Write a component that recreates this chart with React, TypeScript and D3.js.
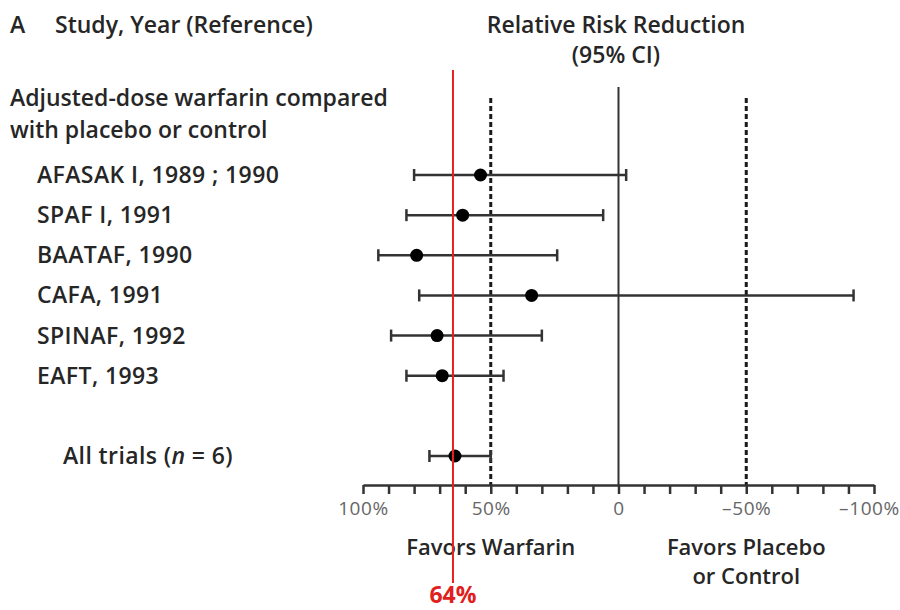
import { useEffect, useRef } from 'react';
import * as d3 from 'd3';

const studies = ['AFASAK I, 1989 ; 1990', 'SPAF I, 1991', 'BAATAF, 1990', 'CAFA, 1991', 'SPINAF, 1992', 'EAFT, 1993'];
const rrr = [54, 61, 79, 34, 71, 69];
const ciUpper = [80, 83, 94, 78, 89, 83];
const ciLower = [-3, 6, 24, -92, 30, 45];

const pooledRrr = 64;
const pooledCi = [74, 50];

const tickValues = d3.range(100, -101, -10);
const labelledTicks = [100, 50, 0, -50, -100];
const refLines = [50, -50];

const font = '"Open Sans", "Noto Sans", sans-serif';
const ink = '#262626';

const App = () => {
  const ref = useRef<SVGSVGElement>(null);

  useEffect(() => {
    const svg = d3.select(ref.current);
    svg.selectAll('*').remove();

    const x = d3.scaleLinear().domain([100, -100]).range([363, 874]);
    const row = d3.scaleLinear().domain([0, 7]).range([175, 456]);
    const axisY = 485;

    // headers
    const head = svg.append('g').attr('font-family', font).attr('font-weight', 600).attr('fill', ink).attr('font-size', 23);
    head.append('text').attr('x', 10).attr('y', 33).text('A');
    head.append('text').attr('x', 55).attr('y', 33).text('Study, Year (Reference)');
    head.append('text').attr('x', 616).attr('y', 33).attr('text-anchor', 'middle').text('Relative Risk Reduction');
    head.append('text').attr('x', 616).attr('y', 63).attr('text-anchor', 'middle').text('(95% CI)');
    head.append('text').attr('x', 10).attr('y', 106).text('Adjusted-dose warfarin compared');
    head.append('text').attr('x', 10).attr('y', 138).text('with placebo or control');

    // study labels
    head
      .selectAll('text.study')
      .data(studies)
      .join('text')
      .attr('class', 'study')
      .attr('x', 37)
      .attr('y', (_, i) => row(i) + 8)
      .attr('letter-spacing', 0.4)
      .text((d) => d);

    const all = head.append('text').attr('x', 63).attr('y', row(7) + 8).attr('letter-spacing', 0.4);
    all.append('tspan').text('All trials (');
    all.append('tspan').attr('font-style', 'italic').text('n');
    all.append('tspan').text(' = 6)');

    // reference lines
    svg
      .append('line')
      .attr('x1', x(0))
      .attr('x2', x(0))
      .attr('y1', 87)
      .attr('y2', axisY)
      .attr('stroke', '#333')
      .attr('stroke-width', 2);
    svg
      .selectAll('line.ref')
      .data(refLines)
      .join('line')
      .attr('class', 'ref')
      .attr('x1', (d) => x(d))
      .attr('x2', (d) => x(d))
      .attr('y1', 98)
      .attr('y2', axisY)
      .attr('stroke', '#1a1a1a')
      .attr('stroke-width', 3)
      .attr('stroke-dasharray', '5 3');

    // axis
    const axis = d3
      .axisBottom(x)
      .tickValues(tickValues)
      .tickSize(9)
      .tickSizeOuter(0)
      .tickPadding(8)
      .tickFormat((d: any) => {
        if (!labelledTicks.includes(d)) return '';
        if (d === 0) return '0';
        return d < 0 ? `–${-d}%` : `${d}%`;
      });
    const gAxis = svg.append('g').attr('transform', `translate(0,${axisY})`).call(axis);
    gAxis.select('.domain').attr('stroke', '#333').attr('stroke-width', 2.5);
    gAxis.selectAll('.tick line').attr('stroke', '#333').attr('stroke-width', 2.5);
    gAxis
      .selectAll('.tick text')
      .attr('font-family', font)
      .attr('font-size', 19)
      .attr('letter-spacing', 0.6)
      .attr('fill', '#666')
      .attr('dx', (d: any) => (d === -100 ? -5 : 0));

    // favours labels
    const fav = svg
      .append('g')
      .attr('font-family', font)
      .attr('font-weight', 600)
      .attr('fill', ink)
      .attr('font-size', 22)
      .attr('text-anchor', 'middle');
    fav.append('text').attr('x', x(50)).attr('y', 555).text('Favors Warfarin');
    fav.append('text').attr('x', x(-50)).attr('y', 555).text('Favors Placebo');
    fav.append('text').attr('x', x(-50)).attr('y', 584).text('or Control');

    // study CIs
    const ci = svg.append('g').attr('stroke', '#333').attr('stroke-width', 2.5);
    const rows = studies.map((s, i) => ({ s, y: row(i), lo: ciUpper[i], hi: ciLower[i], p: rrr[i] }));
    rows.push({ s: 'All trials', y: row(7), lo: pooledCi[0], hi: pooledCi[1], p: pooledRrr });

    ci.selectAll('line.whisker')
      .data(rows)
      .join('line')
      .attr('class', 'whisker')
      .attr('x1', (d) => x(d.lo))
      .attr('x2', (d) => x(d.hi))
      .attr('y1', (d) => d.y)
      .attr('y2', (d) => d.y);
    ci.selectAll('line.capL')
      .data(rows)
      .join('line')
      .attr('class', 'capL')
      .attr('x1', (d) => x(d.lo))
      .attr('x2', (d) => x(d.lo))
      .attr('y1', (d) => d.y - 6)
      .attr('y2', (d) => d.y + 6);
    ci.selectAll('line.capR')
      .data(rows)
      .join('line')
      .attr('class', 'capR')
      .attr('x1', (d) => x(d.hi))
      .attr('x2', (d) => x(d.hi))
      .attr('y1', (d) => d.y - 6)
      .attr('y2', (d) => d.y + 6);
    svg
      .selectAll('circle.pt')
      .data(rows)
      .join('circle')
      .attr('class', 'pt')
      .attr('cx', (d) => x(d.p))
      .attr('cy', (d) => d.y)
      .attr('r', 6.5)
      .attr('fill', '#000');

    // pooled estimate marker
    svg
      .append('line')
      .attr('x1', x(pooledRrr) - 2)
      .attr('x2', x(pooledRrr) - 2)
      .attr('y1', 70)
      .attr('y2', 583)
      .attr('stroke', '#e8211e')
      .attr('stroke-width', 2);
    svg
      .append('text')
      .attr('x', x(pooledRrr) - 2)
      .attr('y', 603)
      .attr('text-anchor', 'middle')
      .attr('font-family', font)
      .attr('font-weight', 700)
      .attr('font-size', 23)
      .attr('fill', '#e0201d')
      .text(`${pooledRrr}%`);
  }, []);

  return (
    <svg
      ref={ref}
      width={900}
      height={610}
      style={{ position: 'absolute', left: 0, top: 0, background: '#fff' }}
    />
  );
};

export default App;
